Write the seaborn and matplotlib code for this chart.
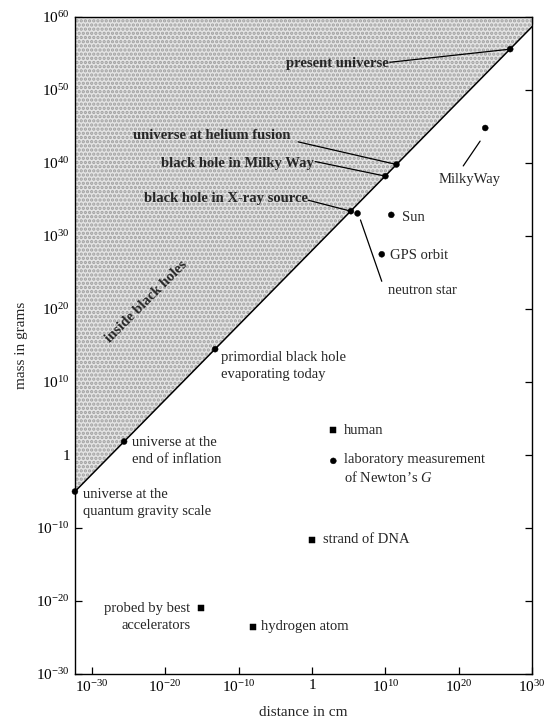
import numpy as np
import pandas as pd
import seaborn as sns
import matplotlib.pyplot as plt

horizon_logx = [-32.3, 30.0]
horizon_logy = [-5.0, 58.7]

# pontos: nome, log10(distancia cm), log10(massa g), marcador
names = ['present universe', 'universe at helium fusion', 'black hole in Milky Way',
         'black hole in X-ray source', 'neutron star', 'primordial black hole',
         'end of inflation', 'quantum gravity', 'MilkyWay', 'Sun', 'GPS orbit',
         'human', 'Newton G', 'strand of DNA', 'accelerators', 'hydrogen atom']
logx = [27.0, 11.5, 10.0, 5.3, 6.2, -13.2, -25.6, -32.3, 23.6, 10.8, 9.5,
        2.9, 2.9, 0.0, -15.1, -8.1]
logy = [55.6, 39.8, 38.2, 33.4, 33.1, 14.5, 1.85, -5.0, 44.8, 32.9, 27.5,
        3.4, -0.8, -11.6, -20.9, -23.5]
kind = ['circle'] * 11 + ['square', 'circle', 'square', 'square', 'square']

xticks_exp = [-30, -20, -10, 0, 10, 20, 30]
yticks_exp = [-30, -20, -10, 0, 10, 20, 30, 40, 50, 60]

df = pd.DataFrame({'name': names,
                   'distance': np.power(10.0, logx),
                   'mass': np.power(10.0, logy),
                   'kind': kind})

sns.set_style('ticks')
plt.rcParams['font.family'] = ['Liberation Serif', 'DejaVu Serif']
plt.rcParams['mathtext.fontset'] = 'custom'
plt.rcParams['mathtext.rm'] = 'Liberation Serif'
plt.rcParams['mathtext.it'] = 'Liberation Serif:italic'
plt.rcParams['hatch.linewidth'] = 1.6
plt.rcParams['hatch.color'] = '#a0a0a0'

fig = plt.figure(figsize=(5.47, 7.24), dpi=100)
ax = fig.add_axes([0.137, 0.069, 0.836, 0.9075])
ax.set_xscale('log')
ax.set_yscale('log')
ax.set_xlim(10 ** -32.3, 1e30)
ax.set_ylim(1e-30, 1e60)

# regiao sombreada (dentro de buracos negros)
hx = np.power(10.0, horizon_logx)
hy = np.power(10.0, horizon_logy)
ax.fill_between(hx, hy, 1e60, facecolor='#e4e4e4', edgecolor='#a0a0a0',
                hatch='....', linewidth=0, zorder=1)
sns.lineplot(x=hx, y=hy, color='black', lw=1.1, ax=ax, zorder=3)

sns.scatterplot(data=df, x='distance', y='mass', style='kind',
                markers={'circle': 'o', 'square': 's'}, color='black',
                s=18, edgecolor='black', legend=False, ax=ax, zorder=5,
                clip_on=False)

fs = 10.5
ls = 1.4
P = lambda a: 10.0 ** a


def leader(x0, y0, x1, y1):
    ax.plot([P(x0), P(x1)], [P(y0), P(y1)], color='black', lw=0.9, zorder=4)


# rotulos na regiao sombreada
ax.text(P(10.4), P(53.7), 'present universe', ha='right', va='center',
        fontsize=fs, fontweight='bold', zorder=6)
leader(10.6, 53.8, 27.0, 55.6)
ax.text(P(-2.9), P(43.8), 'universe at helium fusion', ha='right', va='center',
        fontsize=fs, fontweight='bold', zorder=6)
leader(-1.9, 42.9, 11.5, 39.8)
ax.text(P(0.2), P(40.0), 'black hole in Milky Way', ha='right', va='center',
        fontsize=fs, fontweight='bold', zorder=6)
leader(0.45, 40.2, 10.0, 38.2)
ax.text(P(-0.5), P(35.1), 'black hole in X-ray source', ha='right', va='center',
        fontsize=fs, fontweight='bold', zorder=6)
leader(-0.5, 34.9, 5.3, 33.4)
ax.text(P(-22.5), P(21.0), 'inside black holes', ha='center', va='center',
        rotation=45, fontsize=fs, fontweight='bold', zorder=6)

# rotulos fora
ax.text(P(21.5), P(37.7), 'MilkyWay', ha='center', va='center', fontsize=fs)
leader(22.9, 43.0, 20.6, 39.6)
ax.text(P(12.3), P(32.5), 'Sun', ha='left', va='center', fontsize=fs)
ax.text(P(10.6), P(27.4), 'GPS orbit', ha='left', va='center', fontsize=fs)
ax.text(P(10.4), P(22.5), 'neutron star', ha='left', va='center', fontsize=fs)
leader(6.6, 32.2, 9.5, 23.8)
ax.text(P(-12.4), P(12.2), 'primordial black hole\nevaporating today',
        ha='left', va='center', fontsize=fs, linespacing=ls)
ax.text(P(-24.5), P(0.5), 'universe at the\nend of inflation',
        ha='left', va='center', fontsize=fs, linespacing=ls)
ax.text(P(-31.2), P(-6.6), 'universe at the\nquantum gravity scale',
        ha='left', va='center', fontsize=fs, linespacing=ls)
ax.text(P(4.3), P(3.4), 'human', ha='left', va='center', fontsize=fs)
ax.text(P(4.3), P(-1.9), 'laboratory measurement\nof Newton\u2019s $\\mathit{G}$',
        ha='left', va='center', fontsize=fs, linespacing=ls)
ax.text(P(1.5), P(-11.6), 'strand of DNA', ha='left', va='center', fontsize=fs)
ax.text(P(-16.6), P(-22.2), 'probed by best\naccelerators', ha='right',
        va='center', multialignment='right', fontsize=fs, linespacing=ls)
ax.text(P(-6.9), P(-23.5), 'hydrogen atom', ha='left', va='center', fontsize=fs)


def lab(e):
    return '1' if e == 0 else '$10^{%d}$' % e


ax.set_xticks([P(e) for e in xticks_exp])
ax.set_xticklabels([lab(e) for e in xticks_exp])
ax.set_yticks([P(e) for e in yticks_exp])
ax.set_yticklabels([lab(e) for e in yticks_exp])
ax.minorticks_off()
ax.tick_params(which='major', direction='in', length=5, width=0.9,
               top=True, right=True, labelsize=11, colors='black')
for sp in ax.spines.values():
    sp.set_linewidth(1.0)
    sp.set_color('black')

ax.set_xlabel('distance in cm', fontsize=11, labelpad=8)
ax.set_ylabel('mass in grams', fontsize=11, labelpad=6)

fig.savefig('out.png', dpi=100)
